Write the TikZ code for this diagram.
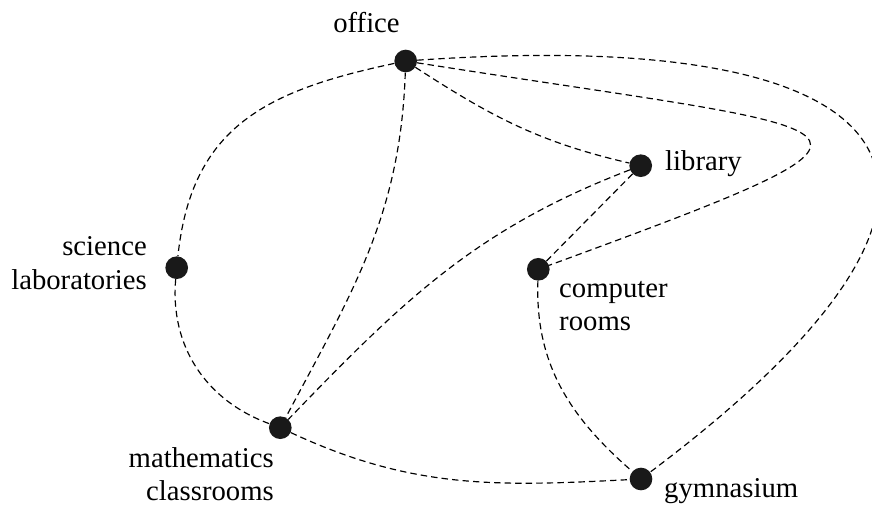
\documentclass[tikz,border=0pt]{standalone}
\usepackage{fontspec}
\setmainfont{Liberation Serif}
\newfontfamily\roomfont{Liberation Serif}
\usetikzlibrary{positioning}

\begin{document}
\begin{tikzpicture}[x=0.03cm, y=0.03cm,
    spot/.style={circle, fill=black!90, minimum size=0.68cm, inner sep=0pt},
    room/.style={inner sep=0pt, font=\roomfont\fontsize{24.5}{28.5}\selectfont},
    route/.style={line width=1pt, dash pattern=on 5.5pt off 3.5pt}]
    \useasboundingbox (0,0) rectangle (872,505);

    % --- Rooms ---
    \node[spot] (office) at (405.7,444) {};
    \node[spot] (library) at (640.7,339.3) {};
    \node[spot] (science) at (176.7,237.3) {};
    \node[spot] (computer) at (538.3,235.7) {};
    \node[spot] (math) at (280.3,77.3) {};
    \node[spot] (gym) at (641,26) {};

    % --- Labels ---
    \node[room, anchor=base] (officetxt) at (366.5,472) {office};
    \node[room, anchor=base west] (librarytxt) at (665,334.3) {library};
    \node[room, anchor=east, align=right] (sciencetxt) at (147,242) {science\\laboratories};
    \node[room, anchor=north west, align=left] (computertxt) at (559,224) {computer\\rooms};
    \node[room, anchor=north east, align=right] (mathtxt) at (274,58) {mathematics\\classrooms};
    \node[room, anchor=base west] (gymtxt) at (664,8) {gymnasium};

    % --- Paths ---
    \draw[route] (office) to[out=192, in=84, looseness=1.15] (science);
    \draw[route] (science) to[out=265, in=160] (math);
    \draw[route] (office) to[out=268, in=62] (math);
    \draw[route] (office) to[out=-33, in=167] (library);
    \draw[route] (office) .. controls (880,369) and (948,386) .. (computer);
    \draw[route] (office) .. controls (925,480) and (1030,318) .. (gym);
    \draw[route] (library) to[out=201, in=46] (math);
    \draw[route] (library) -- (computer);
    \draw[route] (computer) to[out=268, in=139] (gym);
    \draw[route] (math) to[out=-25, in=183] (gym);
\end{tikzpicture}
\end{document}
